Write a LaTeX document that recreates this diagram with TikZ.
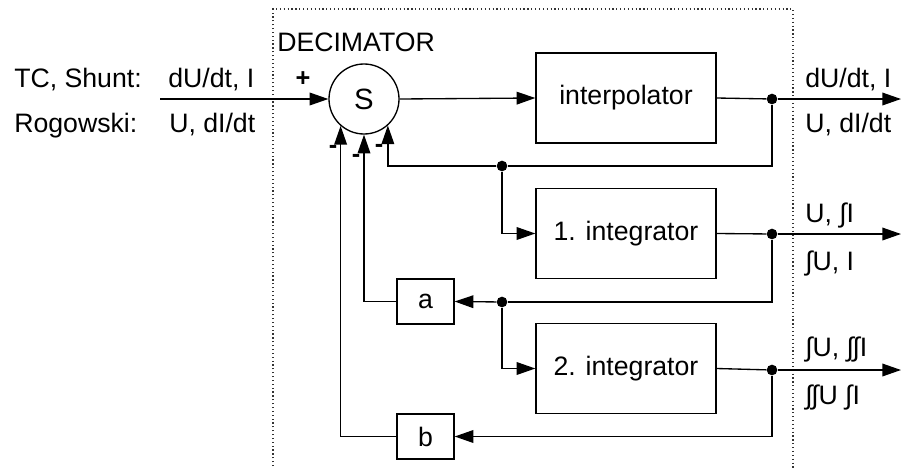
\documentclass[tikz,border=0pt]{standalone}
\usepackage{fontspec}
\setmainfont{Liberation Sans}
\usetikzlibrary{arrows.meta,calc}
\tikzset{
  line/.style={line width=1pt, draw=black},
  arr/.style={line, -{Triangle[length=14pt,width=9.5pt]}},
  blockbox/.style={draw=black, line width=1pt, minimum width=135pt, minimum height=67.5pt, inner sep=0pt, font=\fontsize{20}{24}\selectfont},
  smallbox/.style={draw=black, line width=1pt, minimum width=42.75pt, minimum height=33.75pt, inner sep=0pt, font=\fontsize{20}{24}\selectfont},
  sumnode/.style={circle, draw=black, line width=1pt, minimum size=52.5pt, inner sep=0pt, font=\fontsize{22}{26}\selectfont},
  junction/.style={circle, fill=black, minimum size=8pt, inner sep=0pt},
  lbl/.style={anchor=base west, inner sep=0pt, font=\fontsize{20}{24}\selectfont},
  sgn/.style={inner sep=0pt, font=\fontsize{19}{22}\selectfont\bfseries},
  frame/.style={draw=black!80, line width=0.9pt, dotted}
}
\begin{document}
\begin{tikzpicture}[x=0.75pt,y=-0.75pt]
\useasboundingbox (0,0) rectangle (902,468);
% decimator frame
\draw[frame] (273,470) -- (273,9) -- (793,9) -- (793,470);
\node[lbl] (dec) at (277,51) {DECIMATOR};

% main blocks
\node[sumnode] (S) at (364,99) {S};
\node[blockbox] (interp) at (626,98) {interpolator};
\node[blockbox] (int1) at (626,233.5) {1. integrator};
\node[blockbox] (int2) at (626,368.5) {2. integrator};
\node[smallbox] (a) at (425.5,301.5) {a};
\node[smallbox] (b) at (425.5,436.5) {b};

% junctions
\node[junction] (d1) at (772,99) {};
\node[junction] (d2) at (502,166) {};
\node[junction] (d3) at (772,234) {};
\node[junction] (d4) at (502,302) {};
\node[junction] (d5) at (772,370) {};

% free ends
\coordinate (in) at (160,99);
\coordinate (o1) at (901,99);
\coordinate (o2) at (901,234);
\coordinate (o3) at (901,370);

% input labels
\node[lbl] (tc) at (14,87) {TC, Shunt:};
\node[lbl] (tcv) at (168,87) {dU/dt, I};
\node[lbl] (rg) at (14,132) {Rogowski:};
\node[lbl] (rgv) at (169,132) {U, dI/dt};

% output labels
\node[lbl] (l1a) at (805,87) {dU/dt, I};
\node[lbl] (l1b) at (805,132) {U, dI/dt};
\node[lbl] (l2a) at (805,222) {U, ∫I};
\node[lbl] (l2b) at (805,270) {∫U, I};
\node[lbl] (l3a) at (805,356) {∫U, ∫\kern-1pt∫I};
\node[lbl] (l3b) at (805,404) {∫\kern-1pt∫U ∫I};

% signs
\node[sgn] (plus) at (303,79) {+};
\node[sgn] (m1) at (333,149) {-};
\node[sgn] (m2) at (356,158) {-};
\node[sgn] (m3) at (379,148) {-};

% forward path
\draw[arr] (in) -- (S.west);
\draw[arr] (S.east) -- (interp.west);
\draw[line] (interp.east) -- (d1);
\draw[arr] (d1) -- (o1);
\draw[line] (int1.east) -- (d3);
\draw[arr] (d3) -- (o2);
\draw[line] (int2.east) -- (d5);
\draw[arr] (d5) -- (o3);

% feedback from interpolator
\draw[line] (d1) |- (d2);
\draw[arr] (d2) -- (S.-48 |- d2) -- (S.-48);
\draw[arr] (d2) |- (int1.west);

% feedback from 1. integrator
\draw[line] (d3) |- (d4);
\draw[arr] (d4) -- (a.east);
\draw[arr] (a.west) -| (S.south);
\draw[arr] (d4) |- (int2.west);

% feedback from 2. integrator
\draw[arr] (d5) |- (b.east);
\draw[arr] (b.west) -| (S.-131);
\end{tikzpicture}
\end{document}
